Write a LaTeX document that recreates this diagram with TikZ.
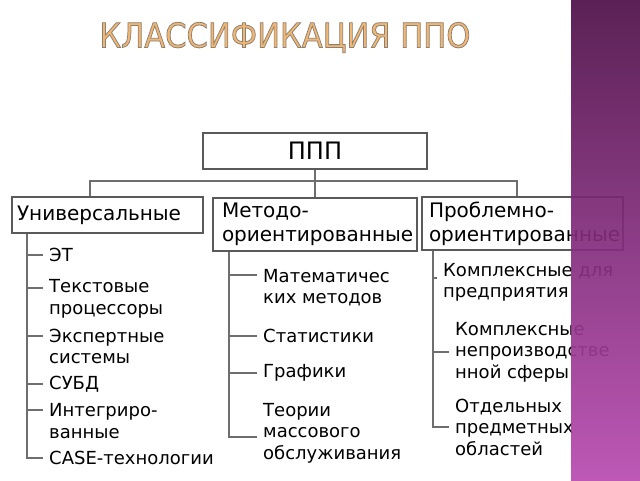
\documentclass[tikz,border=0pt]{standalone}
\usepackage{fontspec}
\usepackage{graphicx}
\setmainfont{DejaVu Sans}
\usetikzlibrary{calc}
\definecolor{linegray}{HTML}{6E6E6E}
\definecolor{boxgray}{HTML}{5A5A5A}
\definecolor{gold}{HTML}{EFB674}
\definecolor{purtop}{HTML}{4E0F48}
\definecolor{purbot}{HTML}{B84AB0}
\newcommand{\outlinetext}[1]{\special{pdf:literal direct 2 Tr 0.8 w 0.55 0.5 0.45 RG}#1\special{pdf:literal direct 0 Tr}}
\begin{document}
\begin{tikzpicture}[x=1pt,y=-1pt,
  hdr/.style={draw=boxgray, line width=1.2pt, font=\fontsize{20}{24}\selectfont, align=left, inner ysep=0pt},
  item/.style={font=\fontsize{18}{21.5}\selectfont, align=left, anchor=west, inner xsep=6pt, inner ysep=0pt},
  conn/.style={draw=linegray, line width=1.2pt}]
\useasboundingbox (0,0) rectangle (640,480);
\fill[white] (0,0) rectangle (640,480);
% title
\node[font=\fontsize{34}{40}\selectfont, text=gold] (title) at (285,37.5) {\scalebox{0.9}[1]{\outlinetext{КЛАССИФИКАЦИЯ ППО}}};
% header boxes
\node[hdr, minimum width=224pt, minimum height=36pt, font=\fontsize{24}{28}\selectfont] (ppp) at (315,151) {ППП};
\node[hdr, minimum height=36pt, text width=181pt, inner xsep=5pt] (uni) at (107.5,215) {Универсальные};
\node[hdr, minimum height=53pt, text width=186pt, inner xsep=9pt] (met) at (315,224.5) {Методо-\\ориентированные};
\node[hdr, minimum height=53pt, text width=187pt, inner xsep=7pt] (pro) at (522.5,223.5) {Проблемно-\\ориентированные};
% tree connectors
\coordinate (hub) at (315,181);
\draw[conn] (ppp.south) -- (hub);
\draw[conn] (uni.north -| 90,0) |- (hub) -| (pro.north -| 517,0);
\draw[conn] (hub) -- (met.north);
% left list
\node[item] (et)   at (43,255) {ЭТ};
\node[item] (tp)   at (43,299) {Текстовые\\процессоры};
\node[item] (es)   at (43,346.5) {Экспертные\\системы};
\node[item] (subd) at (43,384) {СУБД};
\node[item] (int)  at (43,421) {Интегриро-\\ванные};
\node[item] (case) at (43,458) {CASE-технологии};
\coordinate (lx) at (27,0);
\draw[conn] (lx |- uni.south) |- (case.west);
\draw[conn] (lx |- et.west) -- (et.west);
\draw[conn] (lx |- 0,288) -- (tp.west |- 0,288);
\draw[conn] (lx |- 0,336) -- (es.west |- 0,336);
\draw[conn] (lx |- subd.west) -- (subd.west);
\draw[conn] (lx |- 0,410) -- (int.west |- 0,410);
% middle list
\node[item] (mm)  at (257,287.5) {Математичес\\ких методов};
\node[item] (st)  at (257,336) {Статистики};
\node[item] (gr)  at (257,373) {Графики};
\node[item] (tmo) at (257,433) {Теории\\массового\\обслуживания};
\coordinate (mx) at (229,0);
\draw[conn] (mx |- met.south) |- (tmo.west |- 0,437);
\draw[conn] (mx |- 0,275) -- (mm.west |- 0,275);
\draw[conn] (mx |- st.west) -- (st.west);
\draw[conn] (mx |- gr.west) -- (gr.west);
% right list
\node[item] (kp) at (437,282.5) {Комплексные для\\предприятия};
\node[item] (kn) at (449,352) {Комплексные\\непроизводстве\\нной сферы};
\node[item] (op) at (449,427) {Отдельных\\предметных\\областей};
\coordinate (rx) at (433,0);
\draw[conn] (rx |- pro.south) |- (op.west);
\draw[conn] (rx |- 0,278) -- (kp.west |- 0,278);
\draw[conn] (rx |- kn.west) -- (kn.west);
% purple band
\shade[top color=purtop, bottom color=purbot, opacity=0.92] (571,0) rectangle (640,480);
\end{tikzpicture}
\end{document}
